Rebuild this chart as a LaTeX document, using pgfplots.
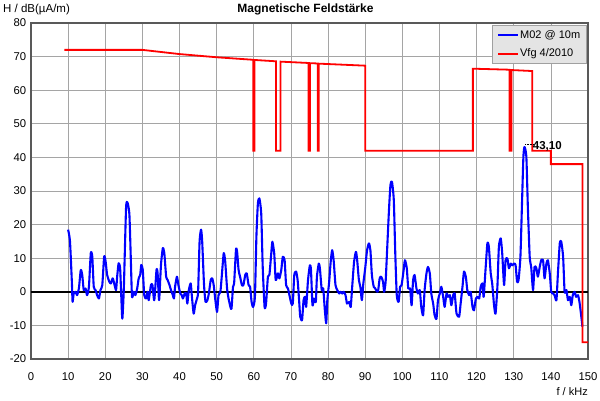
\documentclass[border=0pt]{standalone}
\usepackage{pgfplots}
\pgfplotsset{compat=1.18}
\usepackage{fontspec}
\setmainfont{Liberation Sans}
\definecolor{gridc}{RGB}{165,165,165}
\definecolor{legfill}{RGB}{228,228,228}
\definecolor{legdraw}{RGB}{160,160,160}
\begin{document}
\fontsize{11}{13}\selectfont
\begin{tikzpicture}
\useasboundingbox (-31pt,-42pt) rectangle (569pt,359pt);
\begin{axis}[
  at={(0pt,0pt)}, anchor=south west,
  scale only axis, width=557pt, height=336pt,
  xmin=0, xmax=150, ymin=-20, ymax=80,
  xtick={0,10,...,150}, ytick={-20,-10,...,80},
  grid=major, major grid style={gridc, line width=0.7pt},
  major tick length=0pt,
  axis line style={draw=black!65, line width=1.3pt},
  /pgf/number format/assume math mode=true,
  ticklabel style={font=\fontsize{11.3}{13}\selectfont},
  xticklabel style={yshift=-10pt},
  yticklabel style={xshift=-1pt},
  legend cell align=left,
  legend style={at={(1,1)}, anchor=north east, xshift=-1.5pt, yshift=-2pt,
    fill=legfill, draw=legdraw, line width=0.6pt,
    font=\fontsize{11}{13}\selectfont, row sep=5pt, inner xsep=5pt, inner ysep=3pt,
    nodes={inner xsep=1pt}},
  legend image code/.code={\draw[#1] (0pt,0pt) -- (20pt,0pt);},
  clip=false,
]
\addplot[black, line width=1.5pt, forget plot] coordinates {(0,0) (150,0)};
\addplot[blue, line width=2.1pt, smooth, tension=0.35, line join=round] coordinates {
(10,18.5) (10.5,15) (11,3) (11.2,-3) (11.5,-0.5) (12,0) (12.4,-1) (12.9,1) (13.4,6.5) (13.8,5)
(14.2,0.5) (14.7,1) (15.1,-1) (15.6,1.5) (16.1,11.5) (16.5,10.5) (16.9,1.5) (17.4,0.5) (17.8,-1) (18.3,-2)
(18.7,0.5) (19.2,2) (19.7,10.5) (20.1,9) (20.5,5) (21.1,3) (21.5,2.5) (22,4) (22.4,2.5) (22.9,0.5)
(23.2,4.5) (23.6,8.5) (24,7) (24.3,-1) (24.6,-8) (25,1) (25.6,25) (26,26.5) (26.5,23) (26.9,9)
(27.2,-1.5) (27.7,0) (28.1,-1) (28.6,1) (29,4) (29.4,5) (29.7,8) (30.1,6.5) (30.5,-1) (31,-2)
(31.4,0) (31.7,-2.5) (32.3,2) (32.7,2) (33.2,-2.5) (33.8,6.5) (34.1,5.5) (34.5,-2.5) (35,8) (35.5,13)
(35.9,11.5) (36.4,4.5) (36.8,3.5) (37.3,2) (37.7,0.5) (38.2,-1) (38.5,-2) (38.8,1.5) (39.3,4.5) (39.7,2)
(40.2,-0.5) (40.6,-1) (40.9,-2) (41.4,-0.5) (41.8,-0.5) (42.1,-3.5) (42.5,0.5) (43,2.5) (43.3,-1) (43.8,-6.5)
(44.2,-4) (44.7,-2) (45,0) (45.4,15) (45.8,18.5) (46.1,15) (46.6,2) (47,-3) (47.5,-2.5) (47.9,-0.5)
(48.4,3.5) (48.8,4) (49.2,2) (49.6,-2) (50.1,-6) (50.5,-1) (51,0) (51.4,5) (51.9,11.5) (52.3,9)
(52.8,1) (53.2,-2) (53.7,-4.5) (54,-5) (54.4,1.5) (54.7,2.5) (55.2,12.5) (55.5,12) (55.9,6.5) (56.3,4.5)
(56.8,2) (57.2,2) (57.7,5) (58.1,5.5) (58.6,2) (59,1.5) (59.4,-3) (59.8,-4.5) (60.3,-1.5) (60.7,16.4)
(61.1,26.3) (61.5,27.8) (62,23.3) (62.4,7.4) (62.9,-4.5) (63.3,-3.5) (63.8,4.5) (64.2,5) (64.7,11.4) (65,14.9)
(65.5,11.4) (65.9,3.5) (66.5,5.5) (66.9,4) (67.4,6.5) (67.8,10.4) (68.3,9.4) (68.7,2) (69.2,1) (69.5,-0.5)
(70.1,-3.5) (70.5,-3.5) (70.9,5) (71.4,6) (71.8,3.5) (72.2,-2.5) (72.5,-7.4) (73,-8.4) (73.4,-2.5) (73.8,-1.5)
(74.1,-4.5) (74.6,3.5) (75.1,7.9) (75.4,6.5) (75.8,-4) (76.2,-2) (76.7,-3) (77,4.5) (77.5,8.4) (77.8,7)
(78.3,0.5) (78.7,1) (79.1,-5) (79.5,-9.4) (79.8,-2.5) (80.3,3) (80.7,8.9) (81.1,12.4) (81.5,9.4) (82,2)
(82.5,0.5) (83,-0.5) (83.4,0) (83.8,-0.5) (84.2,0) (84.7,-1) (85.1,-3.5) (85.7,-3) (86.1,-4.5) (86.5,1.5)
(87,8.9) (87.5,11.9) (87.8,9.9) (88.3,3.5) (88.7,1.5) (89.1,-2.5) (89.5,2.5) (90,7) (90.5,12.4) (91,14.4)
(91.4,12.4) (91.8,5) (92.3,1.5) (92.7,1) (93.2,0) (93.5,0.5) (93.9,4) (94.3,4.5) (94.8,3) (95.1,0)
(95.5,3) (95.9,12.4) (96.4,24.3) (96.8,31.8) (97.2,32.8) (97.7,27.3) (98.1,11.4) (98.5,-1) (99,-3) (99.4,1.5)
(99.8,2) (100.3,6) (100.7,9.4) (101.2,7) (101.6,1) (102.1,1) (102.5,-4) (102.9,3.5) (103.3,5) (103.8,1)
(104.2,-0.5) (104.7,0.5) (105.1,-4.5) (105.6,-7) (106,0.5) (106.5,5.5) (106.9,7.4) (107.4,5.5) (107.8,-0.5) (108.3,-3.5)
(108.7,-7) (109.2,-8) (109.6,-2.5) (110.1,-0.5) (110.5,1.5) (111,-1.5) (111.4,-4.5) (111.9,-0.5) (112.3,-1.5) (112.8,-1)
(113.2,-4) (113.7,-1) (114.1,-0.5) (114.6,-6.5) (115.3,-7.4) (115.7,-3.5) (116.2,1.5) (116.6,6) (117.1,4.5) (117.5,0.5)
(118,-1) (118.4,0) (118.9,-4.5) (119.3,-5.5) (119.8,-2) (120.2,-1.5) (120.7,-2) (121.1,1.5) (121.6,2.5) (121.9,-1.5)
(122.4,6.5) (122.9,14.4) (123.3,13.4) (123.8,5.5) (124.2,2.5) (124.7,-4) (125.1,-6.5) (125.6,1.5) (126,13.4) (126.5,15.9)
(126.9,11.4) (127.4,2) (127.8,9.4) (128.3,9.9) (128.7,7) (129.2,8.4) (129.6,7.9) (130.1,8.4) (130.5,7.9) (130.9,3)
(131.3,3.5) (131.8,10.4) (132.2,25.3) (132.6,40.2) (132.9,43.1) (133.4,40.2) (133.8,25.3) (134.3,10.4) (134.7,7.4) (135.2,0.5)
(135.6,7.4) (136.1,7) (136.5,4.5) (137,7.4) (137.4,9.4) (137.9,9.4) (138.3,4) (138.8,8.4) (139.2,9.4) (139.7,5.5)
(140.1,0) (140.6,-0.5) (141,-1) (141.5,-2.5) (141.9,5.5) (142.4,14.4) (142.8,14.9) (143.3,10.4) (143.7,0) (144.2,0.5)
(144.6,-2.5) (145.1,-1.5) (145.5,-4) (145.9,-1) (146.4,0) (146.8,-1.5) (147.3,-1) (147.7,-3) (148.2,-7.4) (148.5,-10.4)
};
\addlegendentry{M02 @ 10m}
\addplot[red, line width=1.8pt] coordinates {
(9,72) (30,72) (40,70.75) (50,69.8) (59.85,69.05) (59.85,42) (60.15,42) (60.15,69.0)
(66,68.6) (66,42) (67.2,42) (67.2,68.5) (74.75,68.1) (74.75,42) (75.1,42) (75.1,68.05)
(77.2,67.95) (77.2,42) (77.5,42) (77.5,67.9) (90,67.3) (90,42) (119,42) (119,66.4)
(128.85,66.1) (128.85,42) (129.4,42) (129.4,66.0) (135,65.7) (135,42) (140,42) (140,38)
(148.5,38) (148.5,-15) (150,-15)
};
\addlegendentry{Vfg 4/2010}
\draw[black, densely dotted, line width=0.5pt] (axis cs:133.1,43.8) -- (axis cs:135.2,43.8);
\node[anchor=west, inner sep=0pt, font=\bfseries\fontsize{11.5}{13}\selectfont] at (axis cs:135.1,43.3) {43,10};
\end{axis}
\node[font=\bfseries\fontsize{12}{14}\selectfont] at (274.5pt,350pt) {Magnetische Feldstärke};
\node[anchor=west, inner sep=0pt, font=\fontsize{11.5}{13}\selectfont] at (-28pt,349pt) {H / dB(µA/m)};
\node[anchor=east, inner sep=0pt] at (557pt,-33pt) {f / kHz};
\end{tikzpicture}
\end{document}
